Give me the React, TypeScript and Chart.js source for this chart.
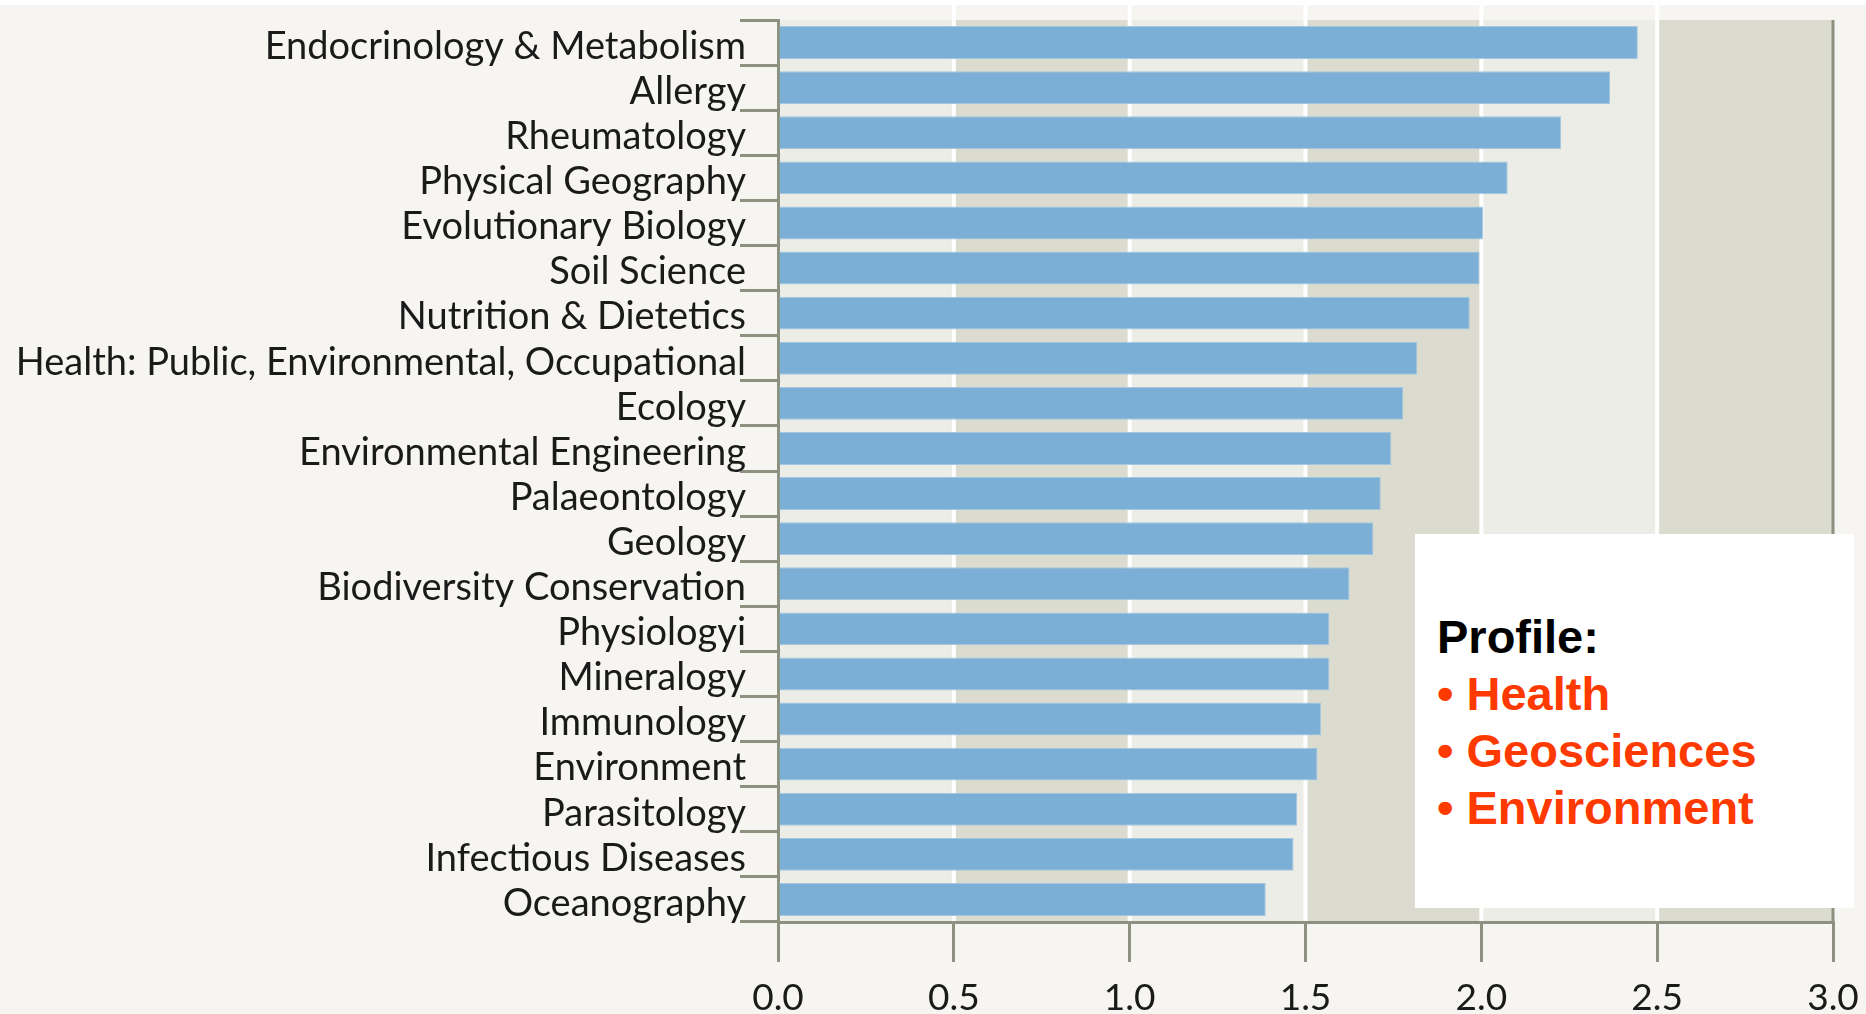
import React, { useEffect, useRef } from "react";
import { Chart, registerables } from "chart.js";

Chart.register(...registerables);

const categories: string[] = [
  "Endocrinology & Metabolism",
  "Allergy",
  "Rheumatology",
  "Physical Geography",
  "Evolutionary Biology",
  "Soil Science",
  "Nutrition & Dietetics",
  "Health: Public, Environmental, Occupational",
  "Ecology",
  "Environmental Engineering",
  "Palaeontology",
  "Geology",
  "Biodiversity Conservation",
  "Physiologyi",
  "Mineralogy",
  "Immunology",
  "Environment",
  "Parasitology",
  "Infectious Diseases",
  "Oceanography",
];

const values: number[] = [
  2.445, 2.366, 2.227, 2.075, 2.005, 1.995, 1.967, 1.818, 1.778, 1.744,
  1.714, 1.693, 1.625, 1.568, 1.568, 1.544, 1.534, 1.476, 1.466, 1.387,
];

const xTicks: number[] = [0, 0.5, 1.0, 1.5, 2.0, 2.5, 3.0];

const profileTitle = "Profile:";
const profileItems: string[] = ["Health", "Geosciences", "Environment"];

const AXIS = "#8c9180";
const LIGHT_BAND = "#edede7";
const DARK_BAND = "#dbdccf";

const bandsPlugin = {
  id: "bands",
  beforeDraw(chart: any) {
    const { ctx, chartArea } = chart;
    const xs = chart.scales.x;
    ctx.save();
    for (let i = 0; i < xTicks.length - 1; i++) {
      const x0 = xs.getPixelForValue(xTicks[i]);
      const x1 = xs.getPixelForValue(xTicks[i + 1]);
      ctx.fillStyle = i % 2 === 0 ? LIGHT_BAND : DARK_BAND;
      ctx.fillRect(x0, chartArea.top, x1 - x0, chartArea.bottom - chartArea.top);
    }
    ctx.strokeStyle = "#ffffff";
    ctx.lineWidth = 4;
    for (let i = 1; i < xTicks.length - 1; i++) {
      const x = xs.getPixelForValue(xTicks[i]);
      ctx.beginPath();
      ctx.moveTo(x, 5);
      ctx.lineTo(x, chartArea.bottom);
      ctx.stroke();
    }
    const xr = xs.getPixelForValue(xTicks[xTicks.length - 1]);
    ctx.strokeStyle = AXIS;
    ctx.lineWidth = 3;
    ctx.beginPath();
    ctx.moveTo(xr, chartArea.top);
    ctx.lineTo(xr, chartArea.bottom);
    ctx.stroke();
    ctx.restore();
  },
};

export default function App() {
  const ref = useRef<HTMLCanvasElement | null>(null);

  useEffect(() => {
    document.body.style.margin = "0";
    const canvas = ref.current;
    if (!canvas) return;
    const chart = new Chart(canvas, {
      type: "bar",
      data: {
        labels: categories,
        datasets: [
          {
            data: values,
            backgroundColor: "#7bafd5",
            borderColor: "#a3c6e1",
            borderWidth: 1,
            barPercentage: 0.73,
            categoryPercentage: 1,
          },
        ],
      },
      options: {
        indexAxis: "y",
        responsive: false,
        animation: false,
        events: [],
        layout: { padding: { top: 20, right: 33, left: 0, bottom: 0 } },
        plugins: { legend: { display: false }, tooltip: { enabled: false } },
        scales: {
          x: {
            type: "linear",
            min: 0,
            max: 3,
            afterFit: (s: any) => {
              s.height = 92;
              s.paddingLeft = 0;
              s.paddingRight = 0;
            },
            afterBuildTicks: (s: any) => {
              s.ticks = xTicks.map((v) => ({ value: v }));
            },
            ticks: {
              color: "#1a1a1a",
              font: { family: "Lato", size: 37 },
              padding: 14,
              maxRotation: 0,
              callback: (v: any) => Number(v).toFixed(1),
            },
            grid: {
              drawOnChartArea: false,
              drawTicks: true,
              tickLength: 40,
              color: AXIS,
              lineWidth: 3,
            },
            border: { display: true, color: AXIS, width: 3 },
          },
          y: {
            afterFit: (s: any) => {
              s.width = 778;
              s.paddingTop = 0;
              s.paddingBottom = 0;
            },
            ticks: {
              color: "#1a1a1a",
              font: { family: "Lato", size: 38 },
              padding: -6,
              labelOffset: 4,
              autoSkip: false,
            },
            grid: {
              drawOnChartArea: false,
              drawTicks: true,
              tickLength: 38,
              color: AXIS,
              lineWidth: 3,
              offset: true,
            },
            border: { display: true, color: AXIS, width: 3 },
          },
        },
      },
      plugins: [bandsPlugin],
    });
    return () => chart.destroy();
  }, []);

  return (
    <div
      style={{
        position: "absolute",
        left: 0,
        top: 0,
        width: 1866,
        height: 1014,
        background: "#f6f5f1",
        overflow: "hidden",
      }}
    >
      <div style={{ position: "absolute", left: 0, top: 0, width: 1866, height: 5, background: "#ffffff" }} />
      <canvas
        ref={ref}
        width={1866}
        height={1014}
        style={{ position: "absolute", left: 0, top: 0, width: 1866, height: 1014 }}
      />
      <div
        style={{
          position: "absolute",
          left: 1415,
          top: 534,
          width: 439,
          height: 374,
          background: "#ffffff",
          boxSizing: "border-box",
          paddingTop: 74,
          paddingLeft: 22,
          fontFamily: "'Liberation Sans', Arial, sans-serif",
          fontWeight: 700,
          fontSize: 47,
          lineHeight: "57px",
          whiteSpace: "nowrap",
        }}
      >
        <div style={{ color: "#000000" }}>{profileTitle}</div>
        {profileItems.map((t) => (
          <div key={t} style={{ color: "#ff3a00" }}>
            {"\u2022 " + t}
          </div>
        ))}
      </div>
    </div>
  );
}
